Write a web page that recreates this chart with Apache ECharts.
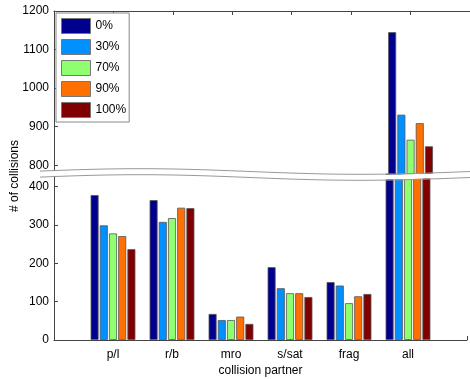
<!DOCTYPE html>
<html>
<head>
<meta charset="utf-8">
<script src="https://cdn.jsdelivr.net/npm/echarts@6/dist/echarts.min.js"></script>
<style>
html,body{margin:0;padding:0;background:#fff;}
#chart{width:470px;height:379px;}
</style>
</head>
<body>
<div id="chart"></div>
<script>
// ---- data ----
var categories = ['p/l', 'r/b', 'mro', 's/sat', 'frag', 'all'];
var seriesNames = ['0%', '30%', '70%', '90%', '100%'];
var v0   = [378, 365, 68, 190, 151, 1145];
var v30  = [299, 308, 52, 135, 142, 931];
var v70  = [278, 318, 52, 122, 96, 866];
var v90  = [271, 345, 61, 122, 114, 909];
var v100 = [237, 344, 42, 112, 120, 849];
var lowerTicks = [0, 100, 200, 300, 400];
var upperTicks = [800, 900, 1000, 1100, 1200];
var colors = ['#00008f', '#0090ff', '#8fff70', '#ff7000', '#800000'];

var values = [v0, v30, v70, v90, v100];
var FONT = 'Liberation Sans, Arial, Helvetica, sans-serif';
var AXIS_COLOR = '#444';

// padded category axis: empty slot at each end, boundaryGap false
var cats = [''].concat(categories).concat(['']);
function pad(arr) { return ['-'].concat(arr).concat(['-']); }

var chart = echarts.init(document.getElementById('chart'), null, {renderer: 'canvas'});

var series = [];
for (var g = 0; g < 2; g++) {
  for (var i = 0; i < seriesNames.length; i++) {
    series.push({
      type: 'bar',
      name: seriesNames[i],
      xAxisIndex: g,
      yAxisIndex: g,
      data: pad(values[i]),
      barWidth: 8,
      barGap: '15%',
      clip: true,
      itemStyle: {color: colors[i], borderColor: '#555', borderWidth: 0.8},
      emphasis: {disabled: true},
      animation: false
    });
  }
}

// wave break decoration
function wave(x, off) {
  return 171.5 + off + 2.8 * Math.sin(2 * Math.PI * (x - 250) / 440);
}
var upperPts = [], lowerPts = [], poly = [];
for (var x = 40; x <= 480; x += 4) {
  upperPts.push([x, wave(x, 0)]);
  lowerPts.push([x, wave(x, 6)]);
}
poly = upperPts.map(function (p) { return [p[0], p[1] + 0.6]; })
  .concat(lowerPts.slice().reverse().map(function (p) { return [p[0], p[1] - 0.6]; }));

var option = {
  backgroundColor: '#fff',
  animation: false,
  textStyle: {fontFamily: FONT},
  grid: [
    {left: 54, width: 420, top: 11, height: 165},
    {left: 54, width: 420, top: 174, height: 166}
  ],
  xAxis: [
    {
      gridIndex: 0, type: 'category', data: cats, boundaryGap: false, position: 'top',
      axisLine: {lineStyle: {color: AXIS_COLOR, width: 1}},
      axisTick: {inside: true, length: 4, lineStyle: {color: AXIS_COLOR}},
      axisLabel: {show: false},
      splitLine: {show: false}
    },
    {
      gridIndex: 1, type: 'category', data: cats, boundaryGap: false, position: 'bottom',
      axisLine: {lineStyle: {color: AXIS_COLOR, width: 1}},
      axisTick: {inside: true, length: 4, lineStyle: {color: AXIS_COLOR}},
      axisLabel: {color: '#000', fontSize: 12, fontFamily: FONT, margin: 9, interval: 0},
      name: 'collision partner', nameLocation: 'middle', nameGap: 25,
      nameTextStyle: {color: '#000', fontSize: 12, fontFamily: FONT},
      splitLine: {show: false}
    }
  ],
  yAxis: [
    {
      gridIndex: 0, type: 'value', min: 772, max: upperTicks[upperTicks.length - 1], splitNumber: 4,
      axisLine: {show: true, lineStyle: {color: AXIS_COLOR, width: 1}},
      axisTick: {show: true, inside: true, length: 4, lineStyle: {color: AXIS_COLOR}},
      axisLabel: {color: '#000', fontSize: 12, fontFamily: FONT, margin: 5, showMinLabel: false,
        formatter: function (v) { return upperTicks.indexOf(v) >= 0 ? String(v) : ''; }},
      splitLine: {show: false}
    },
    {
      gridIndex: 1, type: 'value', min: 0, max: 433, interval: 100,
      axisLine: {show: true, lineStyle: {color: AXIS_COLOR, width: 1}},
      axisTick: {show: true, inside: true, length: 4, lineStyle: {color: AXIS_COLOR}},
      axisLabel: {color: '#000', fontSize: 12, fontFamily: FONT, margin: 5, showMaxLabel: false,
        formatter: function (v) { return lowerTicks.indexOf(v) >= 0 ? String(v) : ''; }},
      splitLine: {show: false}
    }
  ],
  legend: {
    data: seriesNames,
    orient: 'vertical',
    left: 56, top: 13,
    padding: [5, 3, 4, 5],
    itemWidth: 29, itemHeight: 15, itemGap: 5,
    icon: 'rect',
    itemStyle: {borderColor: '#777', borderWidth: 1},
    backgroundColor: '#fff',
    borderColor: '#888', borderWidth: 1, borderRadius: 0,
    textStyle: {color: '#000', fontSize: 12, fontFamily: FONT},
    selectedMode: false
  },
  graphic: [
    {type: 'polygon', z: 100, shape: {points: poly}, style: {fill: '#fff', stroke: null}, silent: true},
    {type: 'polyline', z: 101, shape: {points: upperPts}, style: {stroke: '#999', lineWidth: 1, fill: null}, silent: true},
    {type: 'polyline', z: 101, shape: {points: lowerPts}, style: {stroke: '#999', lineWidth: 1, fill: null}, silent: true},
    {type: 'text', z: 102, x: 15, y: 176, rotation: Math.PI / 2,
      style: {text: '# of collisions', fill: '#000', font: '12px ' + FONT, textAlign: 'center', textVerticalAlign: 'middle'}, silent: true}
  ],
  series: series
};
chart.setOption(option);
</script>
</body>
</html>
